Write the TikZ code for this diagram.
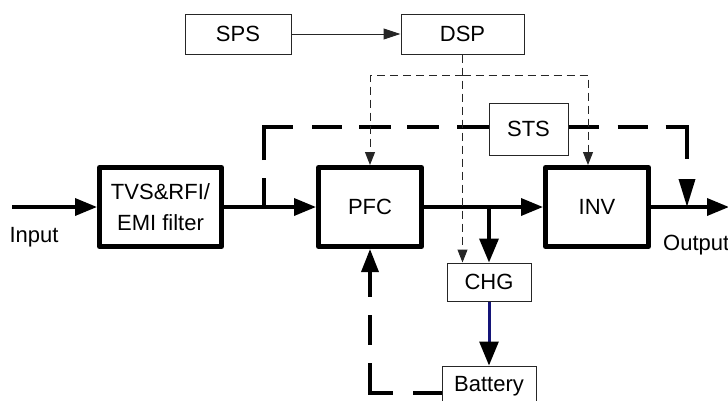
\documentclass[tikz,border=0pt]{standalone}
\usepackage{fontspec}
\setmainfont{Liberation Sans}
\usetikzlibrary{arrows.meta}
\definecolor{navyline}{RGB}{20,20,120}
\tikzset{
  thickbox/.style={draw=black, line width=5pt, line join=round, minimum height=79pt, inner sep=0pt, font=\fontsize{22}{31}\selectfont, align=center},
  thinbox/.style={draw=black!85, line width=1pt, inner sep=0pt, font=\fontsize{22}{31}\selectfont},
  lbl/.style={inner sep=0pt, font=\fontsize{22}{31}\selectfont},
  mainline/.style={line width=3.5pt, -{Triangle[length=22pt,width=17pt]}},
  bigdash/.style={line width=3.5pt},
  thindash/.style={draw=black!85, line width=1pt, dash pattern=on 8pt off 5pt, -{Triangle[length=13pt,width=10pt]}},
}
\begin{document}
\begin{tikzpicture}[x=1pt, y=-1pt]
\useasboundingbox (0,0) rectangle (728,400);
\clip (0,0) rectangle (728,400);
% boxes
\node[thinbox, minimum width=106pt, minimum height=40pt] (SPS) at (238,34) {SPS};
\node[thinbox, minimum width=123pt, minimum height=40pt] (DSP) at (462.5,34) {DSP};
\node[thinbox, minimum width=79pt, minimum height=52pt] (STS) at (528.5,129) {STS};
\node[thickbox, minimum width=122pt] (TVS) at (160.5,207) {TVS\&RFI/\\EMI filter};
\node[thickbox, minimum width=103pt] (PFC) at (370,207) {PFC};
\node[thickbox, minimum width=103pt] (INV) at (597,207) {INV};
\node[thinbox, minimum width=84pt, minimum height=38pt] (CHG) at (489,282) {CHG};
\node[thinbox, minimum width=94pt, minimum height=40pt] (BAT) at (489,386) {Battery};
% labels
\node[lbl, anchor=base] (inlbl) at (34,242) {Input};
\node[lbl, anchor=base west] (outlbl) at (663,250) {Output};
% coordinates
\coordinate (in) at (12,207);
\coordinate (out) at (729,207);
\coordinate (j1) at (264,207);
\coordinate (j2) at (CHG.north |- PFC.east);
\coordinate (j3) at (687,207);
\coordinate (t) at (DSP.south |- 0,75);
% main power path
\draw[mainline] (in) -- (TVS.west);
\draw[mainline] (TVS.east) -- (PFC.west);
\draw[mainline] (PFC.east) -- (INV.west);
\draw[mainline] (INV.east) -- (out);
\draw[mainline, -{Triangle[length=24pt,width=19pt]}] (j2) -- (CHG.north);
\draw[line width=3pt, draw=navyline, -{Triangle[length=24pt,width=19pt,color=black]}] (CHG.south) -- (BAT.north);
% bypass (STS) dashed
\draw[bigdash, dash pattern=on 29pt off 18pt on 62pt off 19pt on 30pt off 17pt on 32pt off 16pt on 32pt off 18pt on 32pt off 10pt] (j1) |- (STS.west |- 0,127);
\draw[bigdash, dash pattern=on 30pt off 19pt on 30pt off 18pt on 53pt off 40pt, -{Triangle[length=28pt,width=16pt]}] (STS.east |- 0,127) -| (j3);
% battery to PFC dashed
\draw[bigdash, dash pattern=on 29pt off 20pt on 53pt off 18pt on 30pt off 18pt on 60pt, -{Triangle[length=23pt,width=17pt]}] (BAT.west |- 0,393) -| (PFC.south);
% control
\draw[draw=black!85, line width=1pt, -{Triangle[length=17pt,width=11pt]}] (SPS.east) -- (DSP.west);
\draw[thindash] (DSP.south) -- (DSP.south |- CHG.north);
\draw[thindash] (t) -| (PFC.north);
\draw[thindash] (t) -| ([xshift=-9pt]INV.north);
\end{tikzpicture}
\end{document}
